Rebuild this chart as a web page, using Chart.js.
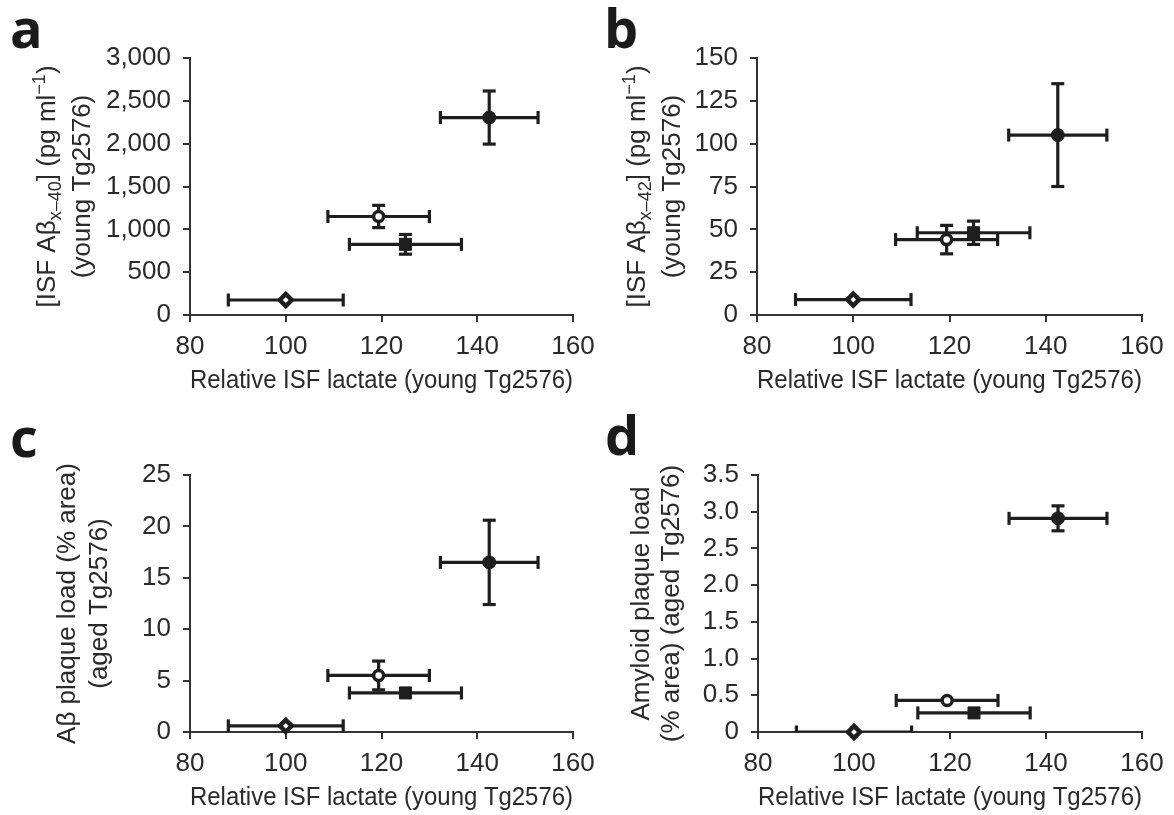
<!DOCTYPE html>
<html>
<head>
<meta charset="utf-8">
<script src="https://cdn.jsdelivr.net/npm/chart.js@4.4.1/dist/chart.umd.min.js"></script>
<style>
  body { margin: 0; background: #fff; }
  #fig { position: relative; width: 1174px; height: 815px; overflow: hidden; }
  canvas { position: absolute; }
  .lab { position: absolute; font: 700 54px/54px 'Open Sans', sans-serif; color: #1a1a1a; }
</style>
</head>
<body>
<div id="fig">
  <canvas id="pa" width="600" height="405" style="left:0;top:0"></canvas>
  <canvas id="pb" width="584" height="405" style="left:590px;top:0"></canvas>
  <canvas id="pc" width="600" height="410" style="left:0;top:405px"></canvas>
  <canvas id="pd" width="584" height="410" style="left:590px;top:405px"></canvas>
  <div class="lab" style="left:10px;top:0">a</div>
  <div class="lab" style="left:604px;top:0">b</div>
  <div class="lab" style="left:10px;top:409px">c</div>
  <div class="lab" style="left:605px;top:407px">d</div>
</div>
<script>
// values; same four groups in every panel
const lactate = [100, 119.4, 125, 142.5];
const lactateErr = [12, 10.6, 11.7, 10.2];

const ab40 = [175, 1150, 825, 2305];
const ab40Err = [0, 130, 115, 310];
const ab42 = [9, 44, 48, 105];
const ab42Err = [0, 8.3, 6.8, 30];
const plaqueAb = [0.6, 5.5, 3.8, 16.5];
const plaqueAbErr = [0, 1.4, 0, 4.1];
const amyloid = [0, 0.43, 0.26, 2.91];
const amyloidErr = [0, 0, 0, 0.17];

const xTicks = ['80', '100', '120', '140', '160'];
const ab40Ticks = ['0', '500', '1,000', '1,500', '2,000', '2,500', '3,000'];
const ab42Ticks = ['0', '25', '50', '75', '100', '125', '150'];
const plaqueAbTicks = ['0', '5', '10', '15', '20', '25'];
const amyloidTicks = ['0', '0.5', '1.0', '1.5', '2.0', '2.5', '3.0', '3.5'];

const xTitle = 'Relative ISF lactate (young Tg2576)';
const ab40Title = ['[ISF Aβ_{x–40}] (pg ml^{−1})', '(young Tg2576)'];
const ab42Title = ['[ISF Aβ_{x–42}] (pg ml^{−1})', '(young Tg2576)'];
const plaqueAbTitle = ['Aβ plaque load (% area)', '(aged Tg2576)'];
const amyloidTitle = ['Amyloid plaque load', '(% area) (aged Tg2576)'];

const ink = '#1e1e1e';
const textInk = '#2a2a2a';
const FONT = "'Liberation Sans', Arial, Helvetica, sans-serif";
const FSIZE = 26;
Chart.defaults.font.family = FONT;
Chart.defaults.font.size = FSIZE;
Chart.defaults.color = textInk;

// diamond (open), open circle, filled square, filled circle
const markers = [
  { style: 'rectRot', r: 6, fill: '#fff', bw: 4.5 },
  { style: 'circle', r: 5, fill: '#fff', bw: 3.5 },
  { style: 'rect', r: 8.5, fill: ink, bw: 1 },
  { style: 'circle', r: 6.5, fill: ink, bw: 1 }
];

const barStyle = {
  type: 'line', showLine: true, fill: false, tension: 0,
  borderColor: ink, borderWidth: 3.2,
  pointStyle: 'line', pointRadius: 6.5, pointHoverRadius: 6.5,
  pointBorderColor: ink, pointBorderWidth: 3.2, order: 1
};

function buildDatasets(ys, ye) {
  const sets = [];
  lactate.forEach((x, i) => {
    const y = ys[i];
    sets.push(Object.assign({}, barStyle, {
      data: [{ x: x - lactateErr[i], y }, { x: x + lactateErr[i], y }],
      pointRotation: 90
    }));
    if (ye[i] > 0) {
      sets.push(Object.assign({}, barStyle, {
        data: [{ x, y: y - ye[i] }, { x, y: y + ye[i] }],
        pointRotation: 0
      }));
    }
    const m = markers[i];
    sets.push({
      data: [{ x, y }],
      pointStyle: m.style, pointRadius: m.r, pointHoverRadius: m.r,
      pointBackgroundColor: m.fill, pointBorderColor: ink,
      pointBorderWidth: m.bw, clip: false, order: 0
    });
  });
  return sets;
}

// rotated two-line y titles with sub/superscripts
function parseRuns(str) {
  return str.split(/(_\{[^}]*\}|\^\{[^}]*\})/).filter(s => s).map(s => {
    if (s.startsWith('_{')) return { t: s.slice(2, -1), k: 'sub' };
    if (s.startsWith('^{')) return { t: s.slice(2, -1), k: 'sup' };
    return { t: s, k: '' };
  });
}

const yTitlePlugin = {
  id: 'yTitle',
  afterDraw(chart, args, opts) {
    const ctx = chart.ctx;
    const area = chart.chartArea;
    const cy = (area.top + area.bottom) / 2;
    const small = Math.round(FSIZE * 0.7);
    ctx.save();
    ctx.fillStyle = textInk;
    ctx.textBaseline = 'alphabetic';
    ctx.textAlign = 'left';
    opts.lines.forEach((line, li) => {
      const runs = parseRuns(line);
      let total = 0;
      runs.forEach(r => {
        ctx.font = (r.k ? small : FSIZE) + 'px ' + FONT;
        r.w = ctx.measureText(r.t).width;
        total += r.w;
      });
      ctx.save();
      ctx.translate(opts.x[li], cy);
      ctx.rotate(-Math.PI / 2);
      let pos = -total / 2;
      runs.forEach(r => {
        ctx.font = (r.k ? small : FSIZE) + 'px ' + FONT;
        const dy = r.k === 'sub' ? 6 : r.k === 'sup' ? -10 : 0;
        ctx.fillText(r.t, pos, dy);
        pos += r.w;
      });
      ctx.restore();
    });
    ctx.restore();
  }
};

function makePanel(id, p) {
  new Chart(document.getElementById(id), {
    type: 'scatter',
    data: { datasets: buildDatasets(p.ys, p.ye) },
    plugins: [yTitlePlugin],
    options: {
      responsive: false,
      animation: false,
      events: [],
      layout: { padding: { left: 0, top: p.top, right: p.right, bottom: 0 } },
      plugins: {
        legend: { display: false },
        tooltip: { enabled: false },
        yTitle: { lines: p.title, x: p.titleX }
      },
      scales: {
        x: {
          type: 'linear', min: 80, max: 160,
          border: { color: '#333', width: 2 },
          grid: { drawOnChartArea: false, color: '#333', lineWidth: 2, tickLength: 7 },
          ticks: { stepSize: 20, padding: 9, maxRotation: 0, autoSkip: false,
                   callback: (v, i) => xTicks[i] },
          title: { display: true, text: xTitle, color: textInk,
                   padding: { top: 0, bottom: p.xHeight - 81 } },
          afterFit: s => { s.height = p.xHeight; s.paddingLeft = 0; s.paddingRight = 0; }
        },
        y: {
          type: 'linear', min: 0, max: p.yMax,
          border: { color: '#333', width: 2 },
          grid: { drawOnChartArea: false, color: '#333', lineWidth: 2, tickLength: 7 },
          ticks: { stepSize: p.yStep, padding: 12, autoSkip: false,
                   callback: (v, i) => p.yTicks[i] },
          afterFit: s => { s.width = p.yWidth; s.paddingTop = 0; s.paddingBottom = 0; }
        }
      }
    }
  });
}

makePanel('pa', { ys: ab40, ye: ab40Err, yMax: 3000, yStep: 500, yTicks: ab40Ticks,
  title: ab40Title, titleX: [55, 90], yWidth: 190, right: 27, top: 58, xHeight: 90 });
makePanel('pb', { ys: ab42, ye: ab42Err, yMax: 150, yStep: 25, yTicks: ab42Ticks,
  title: ab42Title, titleX: [55, 90], yWidth: 167, right: 32, top: 58, xHeight: 90 });
makePanel('pc', { ys: plaqueAb, ye: plaqueAbErr, yMax: 25, yStep: 5, yTicks: plaqueAbTicks,
  title: plaqueAbTitle, titleX: [75, 107], yWidth: 190, right: 27, top: 70, xHeight: 83 });
makePanel('pd', { ys: amyloid, ye: amyloidErr, yMax: 3.5, yStep: 0.5, yTicks: amyloidTicks,
  title: amyloidTitle, titleX: [59, 89], yWidth: 168, right: 32, top: 70, xHeight: 83 });
</script>
</body>
</html>
